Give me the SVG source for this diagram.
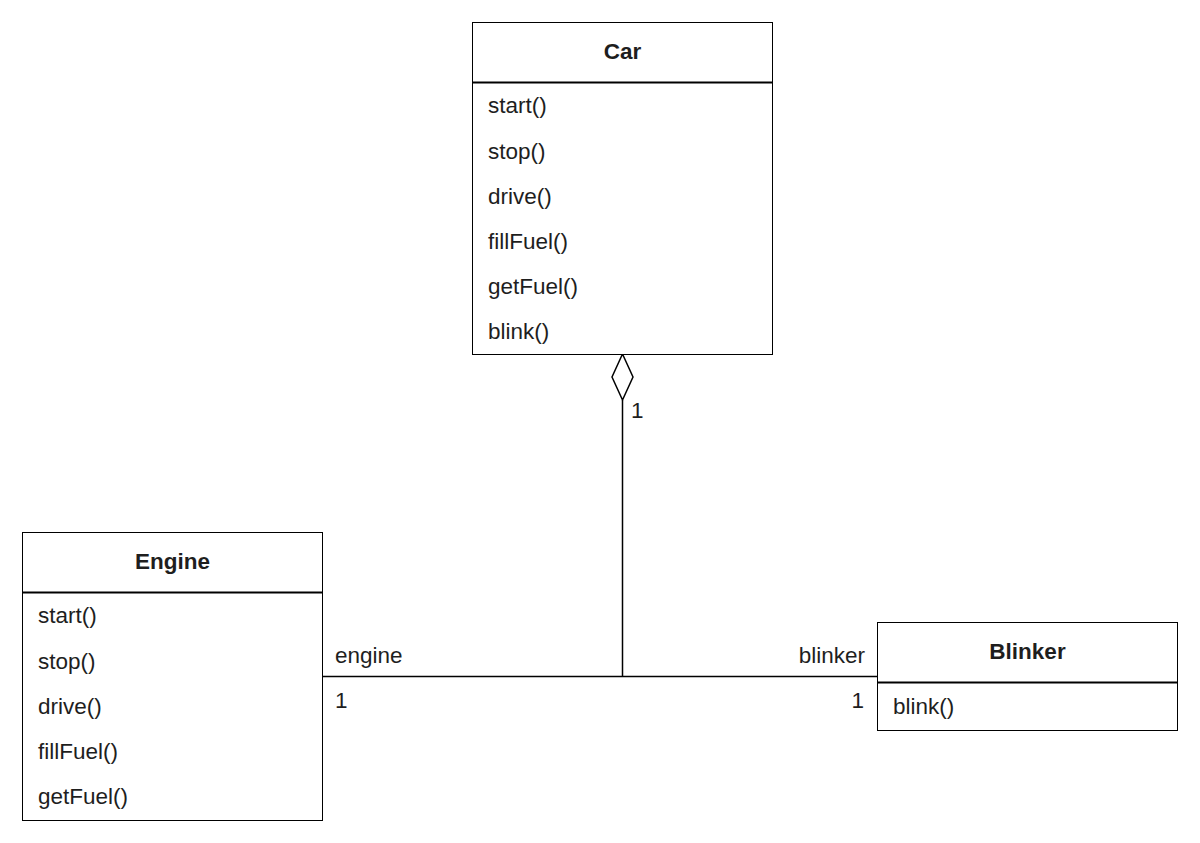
<svg xmlns="http://www.w3.org/2000/svg" width="1200" height="843" viewBox="0 0 1200 843">
  <style>
    .box { fill: #ffffff; stroke: #000000; stroke-width: 1; }
    .sep { stroke: #000000; stroke-width: 2; }
    .title { font-family: "Liberation Sans", Arial, sans-serif; font-size: 22.5px; font-weight: bold; fill: #1e1e1e; text-anchor: middle; }
    .item { font-family: "Liberation Sans", Arial, sans-serif; font-size: 22.5px; fill: #1e1e1e; }
    .lbl { font-family: "Liberation Sans", Arial, sans-serif; font-size: 22.5px; fill: #1e1e1e; }
    .edge { fill: none; stroke: #000000; stroke-width: 1.5; }
  </style>
  <rect width="1200" height="843" fill="#ffffff"/>

  <g id="connectors">
    <line class="edge" x1="622.5" y1="400" x2="622.5" y2="676.5"/>
    <line class="edge" x1="322" y1="676.5" x2="877" y2="676.5"/>
    <path class="edge" d="M622.5 354 L633 377 L622.5 400 L612 377 Z" fill="#ffffff"/>
    <text class="lbl" x="631" y="418">1</text>
    <text class="lbl" x="335" y="663">engine</text>
    <text class="lbl" x="335" y="708">1</text>
    <text class="lbl" x="865" y="663" text-anchor="end">blinker</text>
    <text class="lbl" x="864" y="708" text-anchor="end">1</text>
  </g>

  <g id="car">
    <rect class="box" x="472.5" y="22.5" width="300" height="332"/>
    <line class="sep" x1="472.5" y1="82.5" x2="772.5" y2="82.5"/>
    <text class="title" x="622.5" y="59">Car</text>
    <text class="item" x="488" y="113">start()</text>
    <text class="item" x="488" y="159">stop()</text>
    <text class="item" x="488" y="204">drive()</text>
    <text class="item" x="488" y="249">fillFuel()</text>
    <text class="item" x="488" y="294">getFuel()</text>
    <text class="item" x="488" y="339">blink()</text>
  </g>

  <g id="engine">
    <rect class="box" x="22.5" y="532.5" width="300" height="288"/>
    <line class="sep" x1="22.5" y1="592.5" x2="322.5" y2="592.5"/>
    <text class="title" x="172.5" y="569">Engine</text>
    <text class="item" x="38" y="623">start()</text>
    <text class="item" x="38" y="669">stop()</text>
    <text class="item" x="38" y="714">drive()</text>
    <text class="item" x="38" y="759">fillFuel()</text>
    <text class="item" x="38" y="804">getFuel()</text>
  </g>

  <g id="blinker">
    <rect class="box" x="877.5" y="622.5" width="300" height="108"/>
    <line class="sep" x1="877.5" y1="682.5" x2="1177.5" y2="682.5"/>
    <text class="title" x="1027.5" y="659">Blinker</text>
    <text class="item" x="893" y="714">blink()</text>
  </g>
</svg>
